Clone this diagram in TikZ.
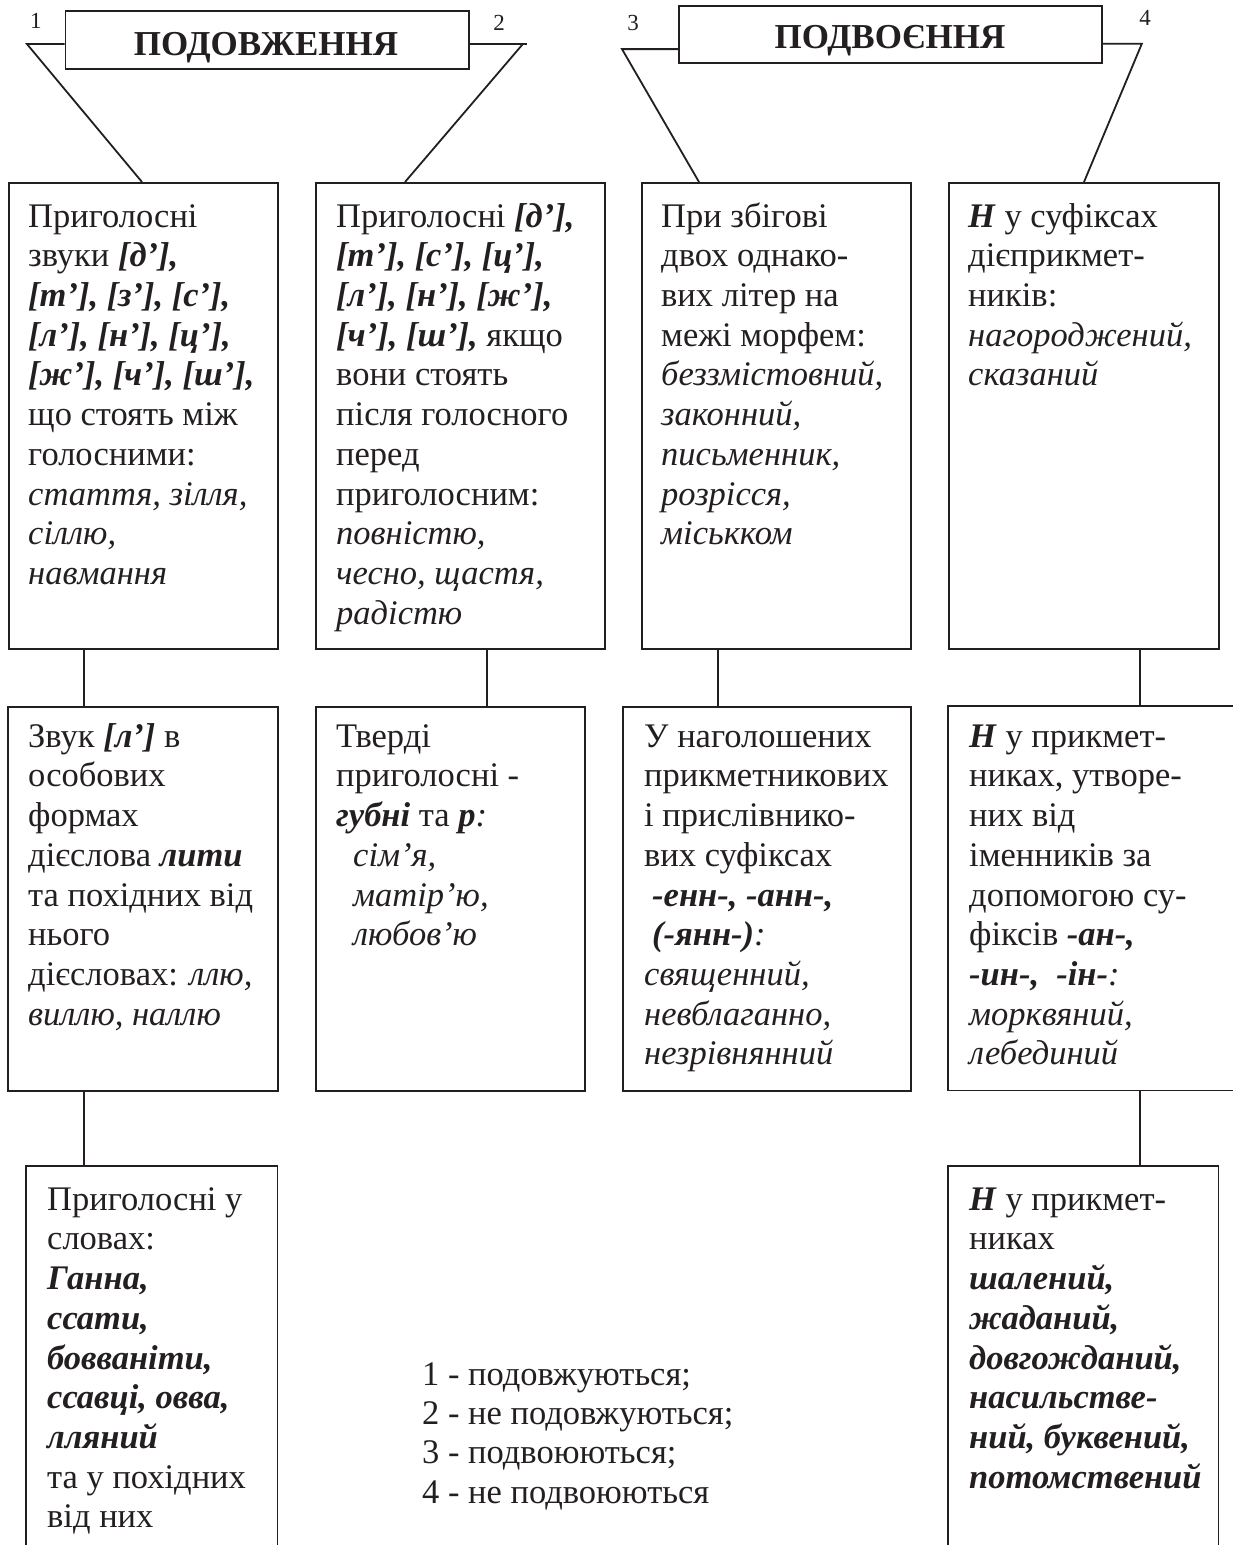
\documentclass[tikz,border=0pt]{standalone}
\usepackage{fontspec}
\setmainfont{Liberation Serif}
\usetikzlibrary{calc}
\definecolor{ink}{RGB}{35,31,32}
\newcommand\BI[1]{\textbf{\textit{#1}}}
\tikzset{
  x=1pt, y=-1pt,
  boxst/.style={draw=ink, line width=1.8pt, rectangle, inner sep=0pt, anchor=north west},
  openbox/.style={draw=none, rectangle, inner sep=0pt, anchor=north west},
  txt/.style={anchor=north west, inner sep=0pt, align=left, text=ink, font=\fontsize{34.5}{39.7}\selectfont},
  ttl/.style={anchor=base, inner sep=0pt, text=ink, font=\fontsize{35}{40}\selectfont\bfseries},
  num/.style={anchor=base, inner sep=0pt, text=ink, font=\fontsize{23}{26}\selectfont},
  ln/.style={draw=ink, line width=1.8pt}
}
\begin{document}
\begin{tikzpicture}
\useasboundingbox (0,0) rectangle (1233,1545);
\fill[white] (0,0) rectangle (1233,1545);

% title boxes
\node[boxst, minimum width=403.5pt, minimum height=58pt] (t1) at (64.5,10) {};
\node[ttl] (t1txt) at (266,55) {ПОДОВЖЕННЯ};
\node[boxst, minimum width=423pt, minimum height=57pt] (t2) at (678,5) {};
\node[ttl] (t2txt) at (890,48) {ПОДВОЄННЯ};

\node[num] (n1) at (36,28) {1};
\node[num] (n2) at (499,30) {2};
\node[num] (n3) at (633,30) {3};
\node[num] (n4) at (1145,25) {4};

% row 1 boxes
\node[boxst, minimum width=269pt, minimum height=466pt] (a1r1) at (8,182) {};
\node[boxst, minimum width=289pt, minimum height=466pt] (a2r1) at (315,182) {};
\node[boxst, minimum width=269pt, minimum height=466pt] (b1r1) at (641,182) {};
\node[boxst, minimum width=270pt, minimum height=466pt] (b2r1) at (948,182) {};

% row 2 boxes
\node[boxst, minimum width=270pt, minimum height=384pt] (a1r2) at (7,706) {};
\node[boxst, minimum width=269pt, minimum height=384pt] (a2r2) at (315,706) {};
\node[boxst, minimum width=288pt, minimum height=384pt] (b1r2) at (622,706) {};
\node[openbox, minimum width=285pt, minimum height=384pt] (b2r2) at (948,706) {};
\draw[ln] (b2r2.north east) -- (b2r2.north west) -- (b2r2.south west) -- (b2r2.south east);

% row 3 boxes (cut by the page edge)
\node[openbox, minimum width=251pt, minimum height=379pt] (ar3) at (26,1166) {};
\draw[ln] (ar3.south west) -- (ar3.north west) -- (ar3.north east) -- (ar3.south east);
\node[openbox, minimum width=270pt, minimum height=379pt] (b2r3) at (948,1166) {};
\draw[ln] (b2r3.south west) -- (b2r3.north west) -- (b2r3.north east) -- (b2r3.south east);

% title connectors
\draw[ln] ($(t1.north west)!0.57!(t1.south west)$) -- ++(-37.5,0) coordinate (p1) -- ($(a1r1.north west)+(134,0)$);
\draw[ln] ($(t1.north east)!0.57!(t1.south east)$) -- ++(57,0);
\draw[ln] ($(t1.north east)!0.57!(t1.south east)+(53,0)$) -- ($(a2r1.north west)+(90,0)$);
\draw[ln] ($(t2.north west)!0.75!(t2.south west)$) -- ++(-56,0) coordinate (p3) -- ($(b1r1.north west)+(58,0)$);
\draw[ln] ($(t2.north east)!0.66!(t2.south east)$) -- ++(39,0) coordinate (p4) -- ($(b2r1.north west)+(136,0)$);

% vertical connectors
\draw[ln] ($(a1r1.south west)+(76,0)$) coordinate (k1) -- (k1 |- a1r2.north);
\draw[ln] ($(a1r2.south west)+(77,0)$) coordinate (k2) -- (k2 |- ar3.north);
\draw[ln] ($(a2r1.south west)+(172,0)$) coordinate (k3) -- (k3 |- a2r2.north);
\draw[ln] ($(b1r1.south west)+(77,0)$) coordinate (k4) -- (k4 |- b1r2.north);
\draw[ln] ($(b2r1.south west)+(192,0)$) coordinate (k5) -- (k5 |- b2r2.north);
\draw[ln] ($(b2r2.south west)+(192,0)$) coordinate (k6) -- (k6 |- b2r3.north);

% texts row 1
\node[txt] (ta1r1) at (28,199.2) {\strut Приголосні\\
звуки \BI{[д’],}\\
\BI{[т’], [з’], [с’],}\\
\BI{[л’], [н’], [ц’],}\\
\BI{[ж’], [ч’], [ш’],}\\
що стоять між\\
голосними:\\
\textit{стаття, зілля,}\\
\textit{сіллю,}\\
\textit{навмання}};

\node[txt] (ta2r1) at (336,199.2) {\strut Приголосні \BI{[д’],}\\
\BI{[т’], [с’], [ц’],}\\
\BI{[л’], [н’], [ж’],}\\
\BI{[ч’], [ш’],} якщо\\
вони стоять\\
після голосного\\
перед\\
приголосним:\\
\textit{повністю,}\\
\textit{чесно, щастя,}\\
\textit{радістю}};

\node[txt] (tb1r1) at (661,199.2) {\strut При збігові\\
двох однако-\\
вих літер на\\
межі морфем:\\
\textit{беззмістовний,}\\
\textit{законний,}\\
\textit{письменник,}\\
\textit{розрісся,}\\
\textit{міськком}};

\node[txt] (tb2r1) at (968,199.2) {\strut \BI{Н} у суфіксах\\
дієприкмет-\\
ників:\\
\textit{нагороджений,}\\
\textit{сказаний}};

% texts row 2
\node[txt] (ta1r2) at (28,719.2) {\strut Звук \BI{[л’]} в\\
особових\\
формах\\
дієслова \BI{лити}\\
та похідних від\\
нього\\
дієсловах: \textit{ллю,}\\
\textit{виллю, наллю}};

\node[txt] (ta2r2) at (336,719.2) {\strut Тверді\\
приголосні -\\
\BI{губні} та \BI{р}\textit{:}\\
\hspace*{17pt}\textit{сім’я,}\\
\hspace*{17pt}\textit{матір’ю,}\\
\hspace*{17pt}\textit{любов’ю}};

\node[txt] (tb1r2) at (644,719.2) {\strut У наголошених\\
прикметникових\\
і прислівнико-\\
вих суфіксах\\
\hspace*{8pt}\BI{-енн-, -анн-,}\\
\hspace*{8pt}\BI{(-янн-)}\textit{:}\\
\textit{священний,}\\
\textit{невблаганно,}\\
\textit{незрівнянний}};

\node[txt] (tb2r2) at (969,719.2) {\strut \BI{Н} у прикмет-\\
никах, утворе-\\
них від\\
іменників за\\
допомогою су-\\
фіксів \BI{-ан-,}\\
\BI{-ин-,\ \ -ін-}\textit{:}\\
\textit{морквяний,}\\
\textit{лебединий}};

% texts row 3
\node[txt] (tar3) at (47,1182.2) {\strut Приголосні у\\
словах:\\
\BI{Ганна,}\\
\BI{ссати,}\\
\BI{бовваніти,}\\
\BI{ссавці, овва,}\\
\BI{лляний}\\
та у похідних\\
від них};

\node[txt] (tb2r3) at (969,1182.2) {\strut \BI{Н} у прикмет-\\
никах\\
\BI{шалений,}\\
\BI{жаданий,}\\
\BI{довгожданий,}\\
\BI{насильстве-}\\
\BI{ний, буквений,}\\
\BI{потомствений}};

% legend
\node[txt, font=\fontsize{34.5}{39.3}\selectfont] (legend) at (422,1357.4) {\strut 1 - подовжуються;\\
2 - не подовжуються;\\
3 - подвоюються;\\
4 - не подвоюються};
\end{tikzpicture}
\end{document}
